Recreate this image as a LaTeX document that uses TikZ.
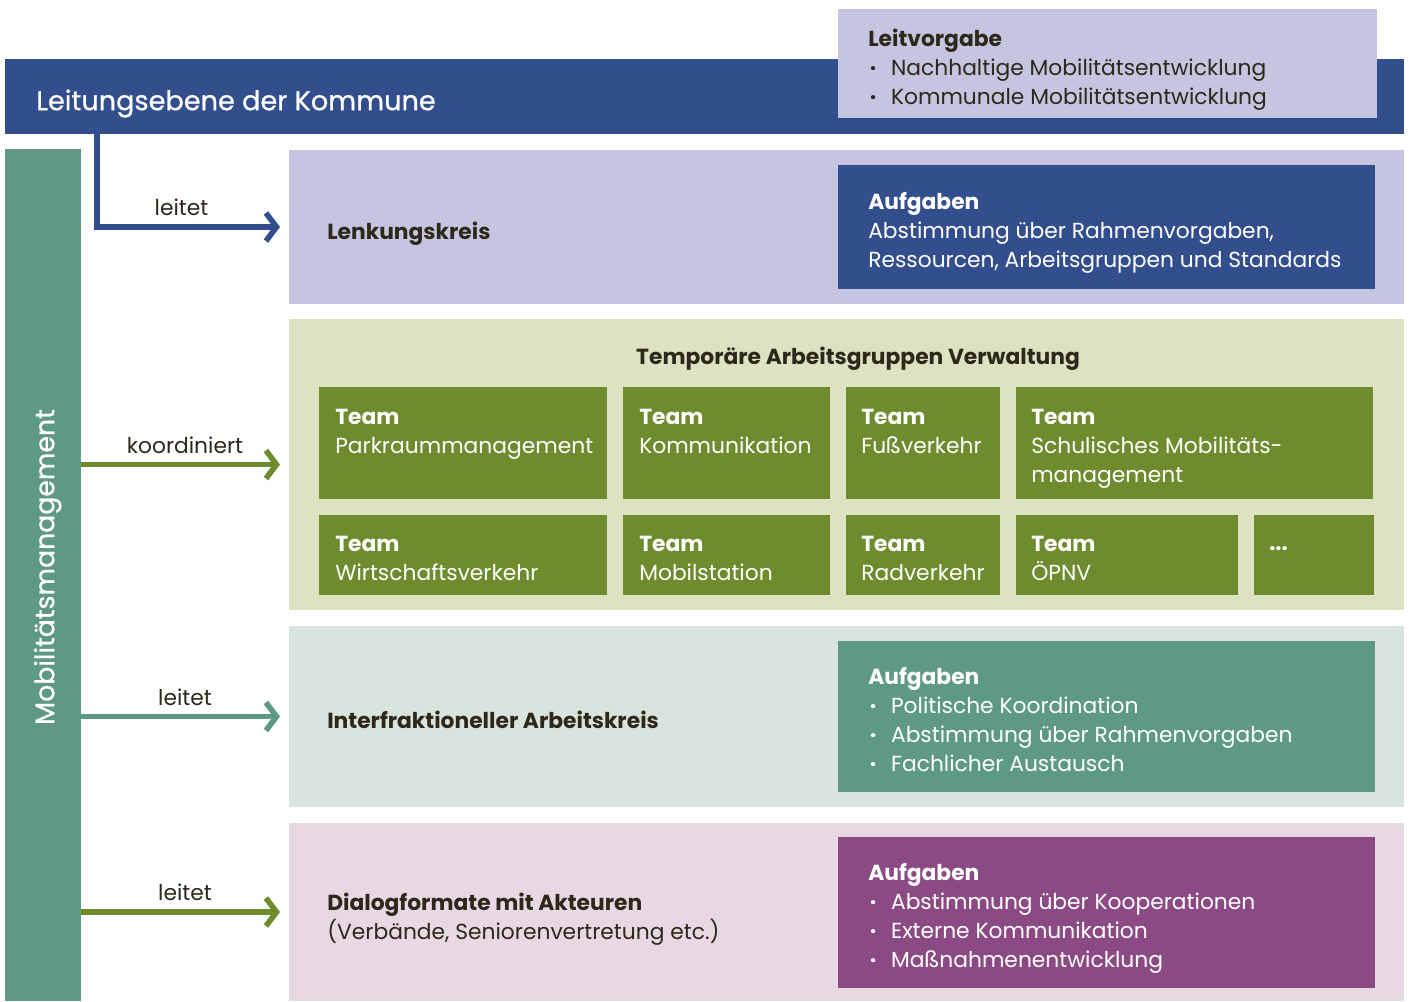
\documentclass[tikz,border=0pt]{standalone}
\usepackage{fontspec}
\setmainfont{Poppins}
\newfontfamily\medfont{Poppins}[FakeBold=0.7]
\usetikzlibrary{arrows.meta,fit,positioning}

\definecolor{kblue}{RGB}{51,78,140}
\definecolor{klav}{RGB}{197,197,225}
\definecolor{kteal}{RGB}{94,153,133}
\definecolor{ktealpale}{RGB}{217,228,223}
\definecolor{kolive}{RGB}{110,139,45}
\definecolor{kolivepale}{RGB}{221,226,194}
\definecolor{kpurple}{RGB}{139,74,131}
\definecolor{kpinkpale}{RGB}{232,216,228}
\definecolor{kdark}{RGB}{45,40,25}

\newcommand\bul{\hspace*{1.2pt}\makebox[15pt][l]{\textbf{·}}}

\tikzset{
  panel/.style={inner sep=0pt, outer sep=0pt, draw=none},
  txt/.style={inner sep=0pt, align=left, text=kdark, font=\fontsize{15.5}{20.6}\selectfont,
    execute at begin node=\strut, execute at end node=\strut},
  wtxt/.style={txt, text=white},
  arr/.style={line width=4pt, -{Straight Barb[length=7.5pt,width=20pt]}, shorten >=6.4pt},
  lbl/.style={txt, above=0pt}
}

\begin{document}
\begin{tikzpicture}[x=0.025cm,y=-0.025cm]
\useasboundingbox (0,0) rectangle (1409,1001);

% Leitungsebene
\node[panel, fill=kblue, fit={(5,59) (1404,134)}] (leitung) {};
\node[wtxt, anchor=west, font=\fontsize{19.3}{22}\medfont] (leitungT) at (36,104) {Leitungsebene der Kommune};
\node[panel, fill=klav, fit={(838,9) (1377,118)}] (leitvorgabe) {};
\node[txt, anchor=west] (leitvorgabeT) at (868,71)
  {\textbf{Leitvorgabe}\\\bul Nachhaltige Mobilitätsentwicklung\\\bul Kommunale Mobilitätsentwicklung};

% Mobilitaetsmanagement
\node[panel, fill=kteal, fit={(5,149) (81,1001)}] (mm) {};
\node[wtxt, rotate=90, font=\fontsize{19}{22}\medfont] (mmT) at (48,567) {Mobilitätsmanagement};

% Lenkungskreis
\node[panel, fill=klav, fit={(289,150) (1404,304)}] (lenk) {};
\node[txt, anchor=west] (lenkT) at (327,234) {\textbf{Lenkungskreis}};
\node[panel, fill=kblue, fit={(838,165) (1375,289)}] (lenkA) {};
\node[wtxt, anchor=west] (lenkAT) at (868,234)
  {\textbf{Aufgaben}\\Abstimmung über Rahmenvorgaben,\\Ressourcen, Arbeitsgruppen und Standards};

% Arbeitsgruppen
\node[panel, fill=kolivepale, fit={(289,319) (1404,610)}] (temp) {};
\node[txt] (tempT) at (858,359) {\textbf{Temporäre Arbeitsgruppen Verwaltung}};
\node[panel, fill=kolive, fit={(319,387) (607,499)}] (team1) {};
\node[panel, fill=kolive, fit={(623,387) (830,499)}] (team2) {};
\node[panel, fill=kolive, fit={(846,387) (1000,499)}] (team3) {};
\node[panel, fill=kolive, fit={(1016,387) (1373,499)}] (team4) {};
\node[panel, fill=kolive, fit={(319,515) (607,595)}] (team5) {};
\node[panel, fill=kolive, fit={(623,515) (830,595)}] (team6) {};
\node[panel, fill=kolive, fit={(846,515) (1000,595)}] (team7) {};
\node[panel, fill=kolive, fit={(1016,515) (1238,595)}] (team8) {};
\node[panel, fill=kolive, fit={(1254,515) (1374,595)}] (team9) {};
\node[wtxt, anchor=west] (team1T) at (335,435.5) {\textbf{Team}\\Parkraummanagement};
\node[wtxt, anchor=west] (team2T) at (639,435.5) {\textbf{Team}\\Kommunikation};
\node[wtxt, anchor=west] (team3T) at (861,435.5) {\textbf{Team}\\Fußverkehr};
\node[wtxt, anchor=west] (team4T) at (1031,450) {\textbf{Team}\\Schulisches Mobilitäts-\\management};
\node[wtxt, anchor=west] (team5T) at (335,562.5) {\textbf{Team}\\Wirtschaftsverkehr};
\node[wtxt, anchor=west] (team6T) at (639,562.5) {\textbf{Team}\\Mobilstation};
\node[wtxt, anchor=west] (team7T) at (861,562.5) {\textbf{Team}\\Radverkehr};
\node[wtxt, anchor=west] (team8T) at (1031,562.5) {\textbf{Team}\\ÖPNV};
\node[wtxt, anchor=base west, execute at begin node={}, execute at end node={}] (team9T) at (1269,550) {\textbf{...}};

% Interfraktionell
\node[panel, fill=ktealpale, fit={(289,626) (1404,807)}] (inter) {};
\node[txt, anchor=west] (interT) at (327,723) {\textbf{Interfraktioneller Arbeitskreis}};
\node[panel, fill=kteal, fit={(838,641) (1375,792)}] (interA) {};
\node[wtxt, anchor=west] (interAT) at (868,724)
  {\textbf{Aufgaben}\\\bul Politische Koordination\\\bul Abstimmung über Rahmenvorgaben\\\bul Fachlicher Austausch};

% Dialogformate
\node[panel, fill=kpinkpale, fit={(289,823) (1404,1001)}] (dialog) {};
\node[txt, anchor=west] (dialogT) at (327,921)
  {\textbf{Dialogformate mit Akteuren}\\(Verbände, Seniorenvertretung etc.)};
\node[panel, fill=kpurple, fit={(838,837) (1375,988)}] (dialogA) {};
\node[wtxt, anchor=west] (dialogAT) at (868,920)
  {\textbf{Aufgaben}\\\bul Abstimmung über Kooperationen\\\bul Externe Kommunikation\\\bul Maßnahmenentwicklung};

% Pfeile
\draw[arr, kblue] (leitung.south -| 97,0) |- (lenk.west) node[lbl, pos=0.72] {leitet};
\draw[arr, kolive] (mm.east |- temp.west) -- (temp.west) node[lbl, midway] {koordiniert};
\draw[arr, kteal] (mm.east |- inter.west) -- (inter.west) node[lbl, midway] {leitet};
\draw[arr, kolive] (mm.east |- dialog.west) -- (dialog.west) node[lbl, midway] {leitet};
\end{tikzpicture}
\end{document}
